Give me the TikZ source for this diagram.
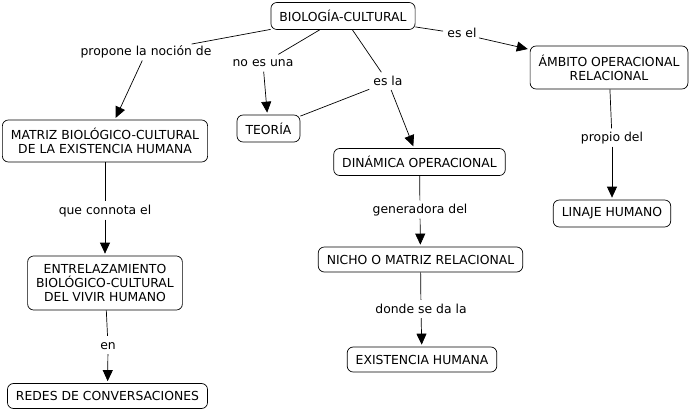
\documentclass[tikz,border=0pt]{standalone}
\usepackage{fontspec}
\setmainfont{DejaVu Sans}
\usetikzlibrary{arrows.meta}

\begin{document}
\begin{tikzpicture}[x=1pt,y=-1pt,line width=0.7pt,
	concept/.style={draw,rounded corners=6pt,align=center,inner xsep=8.5pt,inner ysep=0pt,minimum height=27pt,font=\fontsize{12.4}{14}\selectfont},
	phrase/.style={inner sep=2pt,text height=9pt,text depth=2.5pt,font=\fontsize{12.4}{14}\selectfont},
	>={Triangle[length=11pt,width=10pt]},shorten >=2pt]
\useasboundingbox (0,0) rectangle (690,412);
%
\node[concept] (bio) at (343,16) {BIOLOGÍA-CULTURAL};
\node[concept,minimum height=43pt] (aor) at (609,67.5) {ÁMBITO OPERACIONAL\\RELACIONAL};
\node[concept,minimum height=42pt] (mbc) at (105,141) {MATRIZ BIOLÓGICO-CULTURAL\\DE LA EXISTENCIA HUMANA};
\node[concept] (teo) at (268.5,128.5) {TEORÍA};
\node[concept] (din) at (419.5,162) {DINÁMICA OPERACIONAL};
\node[concept] (lin) at (612,213.5) {LINAJE HUMANO};
\node[concept,minimum height=54pt] (ent) at (105,283) {ENTRELAZAMIENTO\\BIOLÓGICO-CULTURAL\\DEL VIVIR HUMANO};
\node[concept,minimum height=25pt] (red) at (107.5,396) {REDES DE CONVERSACIONES};
\node[concept,minimum height=25pt] (nic) at (420.5,259.5) {NICHO O MATRIZ RELACIONAL};
\node[concept,minimum height=25pt] (exh) at (422,359.5) {EXISTENCIA HUMANA};
%
\node[phrase] (pn) at (146,52.5) {propone la noción de};
\node[phrase] (neu) at (263,63.5) {no es una};
\node[phrase] (esla) at (388,82) {es la};
\node[phrase] (esel) at (462,34) {es el};
\node[phrase] (pd) at (612,138.5) {propio del};
\node[phrase] (qc) at (105,211.5) {que connota el};
\node[phrase] (en) at (108,346) {en};
\node[phrase] (gd) at (420,210.5) {generadora del};
\node[phrase] (dsd) at (421,310) {donde se da la};
%
\draw (bio) edge (pn);
\draw [->] (pn) edge (mbc);
\draw (bio) edge (neu);
\draw [->] (neu) edge (teo);
\draw (bio) edge (esla);
\draw [->] (esla) edge (din);
\draw (teo) edge (esla);
\draw (bio) edge (esel);
\draw [->] (esel) edge (aor);
\draw (aor) edge (pd);
\draw [->] (pd) edge (lin);
\draw (mbc) edge (qc);
\draw [->] (qc) edge (ent);
\draw (ent) edge (en);
\draw [->] (en) edge (red);
\draw (din) edge (gd);
\draw [->] (gd) edge (nic);
\draw (nic) edge (dsd);
\draw [->] (dsd) edge (exh);
\end{tikzpicture}
\end{document}
